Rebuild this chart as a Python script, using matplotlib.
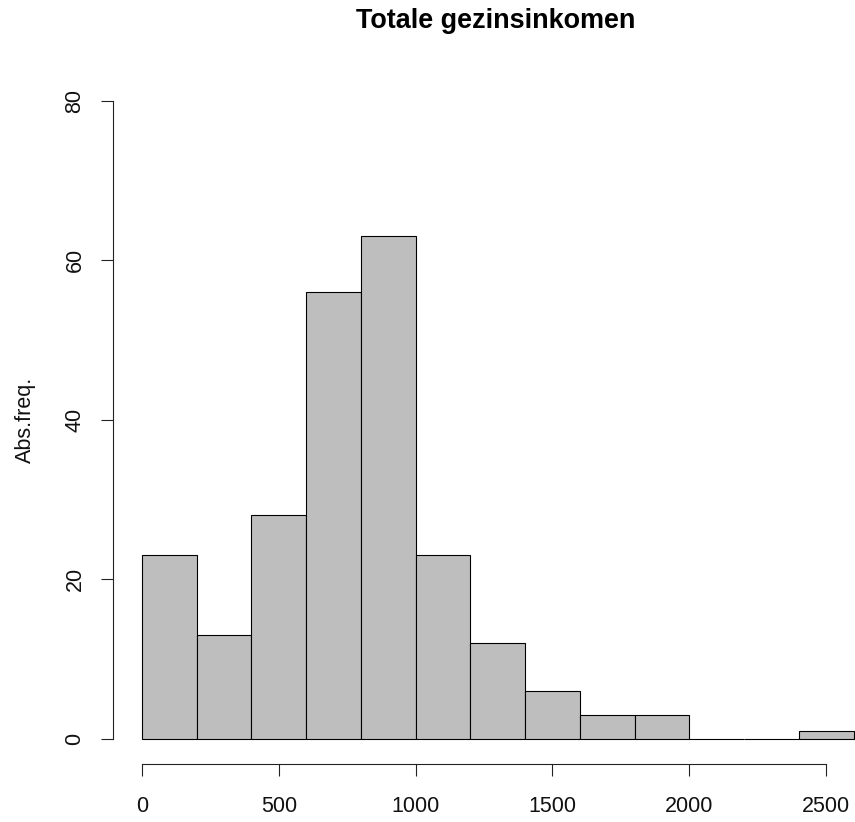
import matplotlib
matplotlib.use("Agg")
import matplotlib.pyplot as plt
import numpy as np

plt.rcParams['font.family'] = ['Liberation Sans', 'DejaVu Sans']

breaks = [0, 200, 400, 600, 800, 1000, 1200, 1400, 1600, 1800, 2000, 2200, 2400, 2600]
counts = [23, 13, 28, 56, 63, 23, 12, 6, 3, 3, 0, 0, 1]
xticks = [0, 500, 1000, 1500, 2000, 2500]
yticks = [0, 20, 40, 60, 80]
title = "Totale gezinsinkomen"
ylabel = "Abs.freq."

W, H = 855, 822
dpi = 72
fig = plt.figure(figsize=(W / dpi, H / dpi), dpi=dpi)

# plot region (pixels) derived from R's 4% axis extension
left_px, right_px = 113.5, 882.0
top_px, bottom_px = 75.5, 764.0
ax = fig.add_axes([left_px / W, 1 - bottom_px / H,
                   (right_px - left_px) / W, (bottom_px - top_px) / H])
ax.set_clip_on(False)

lefts = np.array(breaks[:-1])
widths = np.diff(breaks)
ax.bar(lefts, counts, width=widths, align='edge', color='#BEBEBE',
       edgecolor='black', linewidth=1.1, clip_on=False)

xr = breaks[-1] - breaks[0]
ax.set_xlim(breaks[0] - 0.04 * xr, breaks[-1] + 0.04 * xr)
ax.set_ylim(-0.04 * 80, 80 + 0.04 * 80)

for s in ['top', 'right']:
    ax.spines[s].set_visible(False)
ax.spines['bottom'].set_bounds(xticks[0], xticks[-1])
ax.spines['left'].set_bounds(yticks[0], yticks[-1])
for s in ['bottom', 'left']:
    ax.spines[s].set_linewidth(1.1)
    ax.spines[s].set_color('#222222')

ax.set_xticks(xticks)
ax.set_xticklabels([str(v) for v in xticks])
ax.set_yticks(yticks)
ax.set_yticklabels([str(v) for v in yticks], rotation=90, va='center')
ax.tick_params(axis='both', length=12, width=1.1, color='#222222',
               labelsize=21.5, labelcolor='#111111')
ax.tick_params(axis='x', pad=20)
ax.tick_params(axis='y', pad=16)

fig.text(25 / W, 1 - 420 / H, ylabel, rotation=90, ha='center', va='center',
         fontsize=21.5, color='#111111')
fig.text(496 / W, 1 - 21 / H, title, ha='center', va='center',
         fontsize=27, fontweight='bold', color='black')

fig.savefig('out.png', dpi=dpi)
